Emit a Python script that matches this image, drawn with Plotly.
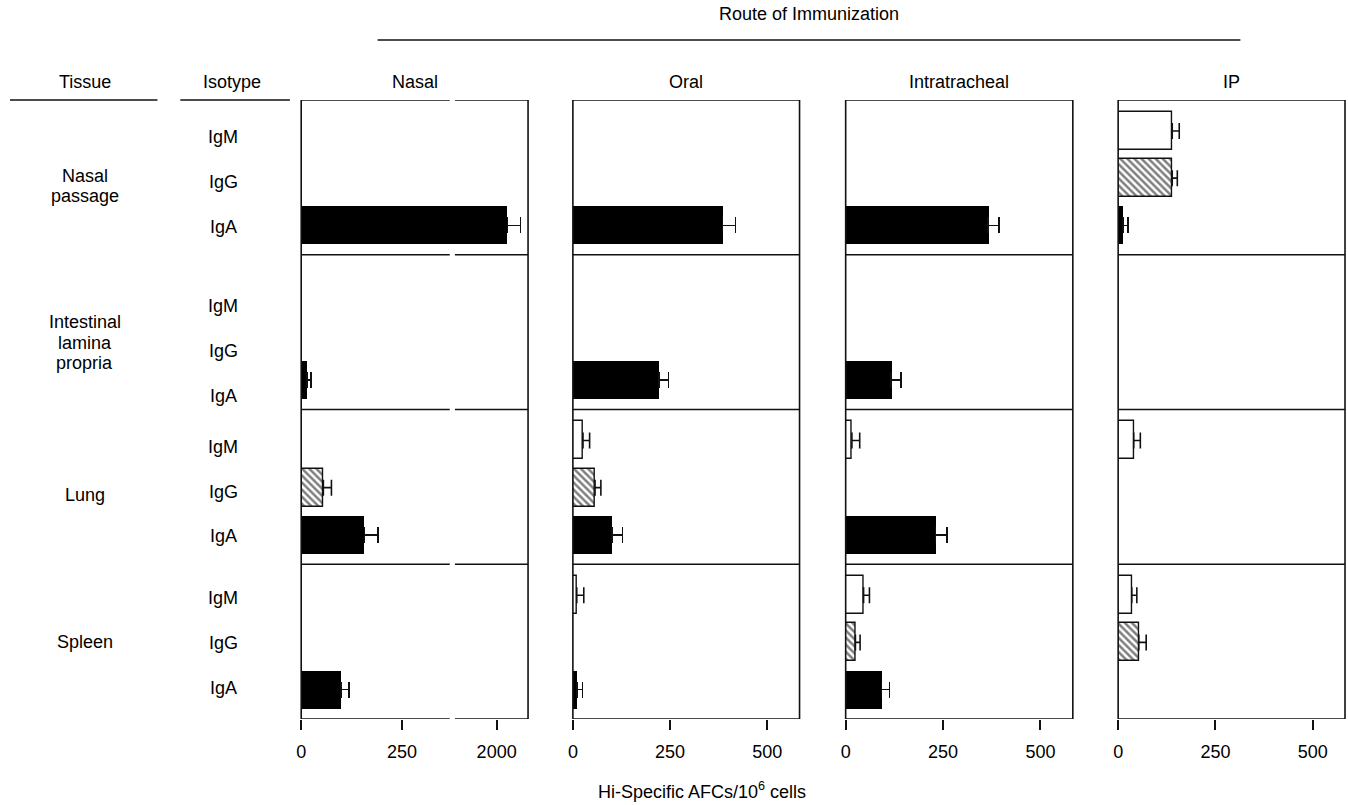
import plotly.graph_objects as go

W, H = 1348, 805

# ---------------- data ----------------
tissues = ["Nasal<br>passage", "Intestinal<br>lamina<br>propria", "Lung", "Spleen"]
isotypes = ["IgM", "IgG", "IgA"]
routes = ["Nasal", "Oral", "Intratracheal", "IP"]
tick_vals = [0, 250, 500]
nasal_low_ticks = [0, 250]
nasal_high_ticks = [2000]

nasal_IgM = [None, None, None, None]
nasal_IgM_err = [None, None, None, None]
nasal_IgG = [None, None, 55, None]
nasal_IgG_err = [None, None, 20, None]
nasal_IgA = [2027, 14, 157, 99]
nasal_IgA_err = [32, 10, 33, 20]

oral_IgM = [None, None, 26, 10]
oral_IgM_err = [None, None, 17, 18]
oral_IgG = [None, None, 57, None]
oral_IgG_err = [None, None, 15, None]
oral_IgA = [385, 221, 101, 10]
oral_IgA_err = [33, 25, 27, 15]

it_IgM = [None, None, 16, 46]
it_IgM_err = [None, None, 20, 15]
it_IgG = [None, None, None, 25]
it_IgG_err = [None, None, None, 12]
it_IgA = [366, 117, 231, 92]
it_IgA_err = [28, 25, 29, 20]

ip_IgM = [139, None, 40, 35]
ip_IgM_err = [18, None, 17, 13]
ip_IgG = [139, None, None, 53]
ip_IgG_err = [13, None, None, 19]
ip_IgA = [13, None, None, None]
ip_IgA_err = [12, None, None, None]

# ---------------- helpers ----------------
def px(x):
    return x / W

def py(y):
    return 1 - y / H

FONT = "Liberation Sans, Arial, Helvetica, sans-serif"
FS = 18
LINE = "#111111"
LW = 1.6

slot = {"IgM": 0.20, "IgG": 0.505, "IgA": 0.81}
bar_h = 0.245

styles = {
    "IgM": dict(color="white", line=dict(color=LINE, width=1.4)),
    "IgG": dict(color="white", line=dict(color=LINE, width=1.4),
                pattern=dict(shape="\\", fgcolor="black", bgcolor="white",
                             size=5, solidity=0.5)),
    "IgA": dict(color="black", line=dict(color="black", width=0)),
}

route_data = {
    "Nasal": {"IgM": (nasal_IgM, nasal_IgM_err), "IgG": (nasal_IgG, nasal_IgG_err),
              "IgA": (nasal_IgA, nasal_IgA_err)},
    "Oral": {"IgM": (oral_IgM, oral_IgM_err), "IgG": (oral_IgG, oral_IgG_err),
             "IgA": (oral_IgA, oral_IgA_err)},
    "Intratracheal": {"IgM": (it_IgM, it_IgM_err), "IgG": (it_IgG, it_IgG_err),
                      "IgA": (it_IgA, it_IgA_err)},
    "IP": {"IgM": (ip_IgM, ip_IgM_err), "IgG": (ip_IgG, ip_IgG_err),
           "IgA": (ip_IgA, ip_IgA_err)},
}

# panel pixel geometry
TOP, BOT = 100, 719
nasal_left, nasal_split, nasal_right = 297.3, 449.0, 525.0
nasal_scale = (nasal_split - nasal_left) / 375.0      # px per unit, low segment
high_start, high_end = 1890.0, 2078.0
high_scale = (nasal_right - nasal_split) / (high_end - high_start)
overlap = 4.0                                          # px overlap, avoids a seam
panel_px = {
    "Oral": (570.0, 797.5),
    "Intratracheal": (843.8, 1071.8),
    "IP": (1117.3, 1345.0),
}
route_axes = {"Nasal": ["x", "x2"], "Oral": ["x3"], "Intratracheal": ["x4"], "IP": ["x5"]}

fig = go.Figure()

for route in routes:
    for ax in route_axes[route]:
        for iso in isotypes:
            vals, errs = route_data[route][iso]
            ypos = [t + slot[iso] for t in range(len(tissues))]
            fig.add_trace(go.Bar(
                x=vals, y=ypos, orientation="h", xaxis=ax, yaxis="y",
                width=bar_h, marker=styles[iso], showlegend=False,
                error_x=dict(type="data", symmetric=False, array=errs,
                             arrayminus=[0] * len(errs), width=8,
                             thickness=1.6, color=LINE),
                hoverinfo="skip",
            ))

axis_common = dict(ticks="outside", ticklen=10, tickwidth=1.6, tickcolor=LINE,
                   showline=False, showgrid=False, zeroline=False, anchor="y",
                   tickfont=dict(size=FS, color="black", family=FONT),
                   ticklabelstandoff=6, fixedrange=True)

fig.update_layout(
    xaxis=dict(domain=[px(nasal_left), px(nasal_split + overlap)],
               range=[0, (nasal_split + overlap - nasal_left) / nasal_scale],
               tickvals=nasal_low_ticks, **axis_common),
    xaxis2=dict(domain=[px(nasal_split - overlap), px(nasal_right)],
                range=[high_start - overlap / high_scale, high_end],
                tickvals=nasal_high_ticks, **axis_common),
    xaxis3=dict(domain=[px(panel_px["Oral"][0]), px(panel_px["Oral"][1])],
                range=[0, 583], tickvals=tick_vals, **axis_common),
    xaxis4=dict(domain=[px(panel_px["Intratracheal"][0]), px(panel_px["Intratracheal"][1])],
                range=[0, 583], tickvals=tick_vals, **axis_common),
    xaxis5=dict(domain=[px(panel_px["IP"][0]), px(panel_px["IP"][1])],
                range=[0, 583], tickvals=tick_vals, **axis_common),
    yaxis=dict(domain=[py(BOT), py(TOP)], range=[len(tissues), 0], visible=False,
               fixedrange=True),
)

# ---------------- frame lines ----------------
shapes = []
def hline(x0, x1, y, yref="y"):
    shapes.append(dict(type="line", xref="paper", yref=yref, x0=px(x0), x1=px(x1),
                       y0=y, y1=y, line=dict(color=LINE, width=LW)))

def vline(x, y0=0, y1=len(tissues)):
    shapes.append(dict(type="line", xref="paper", yref="y", x0=px(x), x1=px(x),
                       y0=y0, y1=y1, line=dict(color=LINE, width=LW)))

gap = 2.6
for r in range(len(tissues) + 1):
    hline(nasal_left, nasal_split - gap, r)
    hline(nasal_split + gap, nasal_right, r)
vline(nasal_left)
vline(nasal_right)
for route, (x0, x1) in panel_px.items():
    for r in range(len(tissues) + 1):
        hline(x0, x1, r)
    vline(x0)
    vline(x1)

# header underlines and route line
hline(5, 153, py(100), yref="paper")
hline(176, 286, py(100), yref="paper")
hline(374, 1240, py(40), yref="paper")

# ---------------- texts ----------------
ann = []
def text(x, y, s, xref="paper", yref="paper", xanchor="center"):
    ann.append(dict(x=x, y=y, xref=xref, yref=yref, text=s, showarrow=False,
                    xanchor=xanchor, yanchor="middle",
                    font=dict(size=FS, color="black", family=FONT)))

text(px(807), py(14), "Route of Immunization")
text(px(80), py(82), "Tissue")
text(px(228), py(82), "Isotype")
text(px((nasal_left + nasal_right) / 2), py(82), routes[0])
for route in routes[1:]:
    x0, x1 = panel_px[route]
    text(px((x0 + x1) / 2), py(82), route)

label_slot = {"IgM": 0.24, "IgG": 0.53, "IgA": 0.82}
row_label_shift = [0.0, 0.09, 0.0, -0.02]
tissue_label_pos = [0.555, 0.57, 0.55, 0.5]
line_step = 20.5 / ((BOT - TOP) / len(tissues))
for t, tissue in enumerate(tissues):
    lines = tissue.split("<br>")
    n = len(lines)
    for k, ln in enumerate(lines):
        text(px(80), t + tissue_label_pos[t] + (k - (n - 1) / 2) * line_step, ln, yref="y")
    for iso in isotypes:
        text(px(219), t + label_slot[iso] + row_label_shift[t], iso, yref="y")

text(px(700), py(790), "Hi-Specific AFCs/10<sup>6</sup> cells")

fig.update_layout(
    width=W, height=H, autosize=False,
    margin=dict(l=0, r=0, t=0, b=0),
    paper_bgcolor="white", plot_bgcolor="rgba(0,0,0,0)",
    barmode="overlay", bargap=0,
    shapes=shapes, annotations=ann,
    font=dict(family=FONT, size=FS, color="black"),
)

fig.write_html("out.html", config={"displayModeBar": False},
               post_script="document.body.style.margin='0px';")
